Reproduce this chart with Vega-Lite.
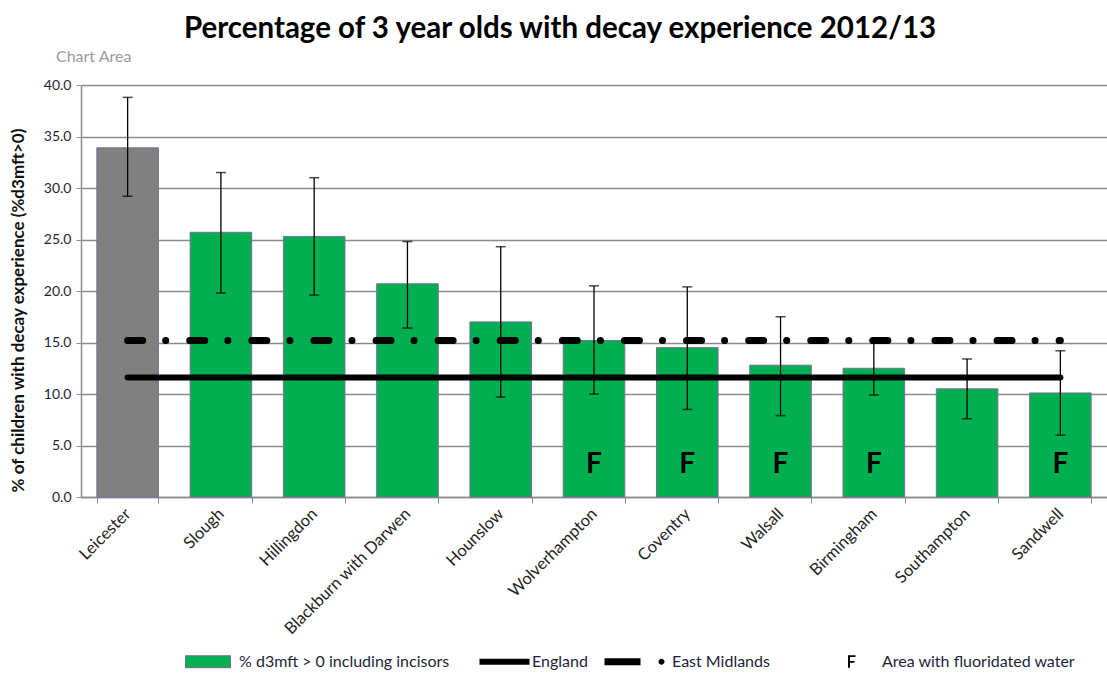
{
  "$schema": "https://vega.github.io/schema/vega-lite/v6.json",
  "autosize": {"type": "none"},
  "padding": {"left": 81, "top": 85, "right": 0, "bottom": 176},
  "width": 1026,
  "height": 412,
  "background": "white",
  "title": {
    "text": "Percentage of 3 year olds with decay experience 2012/13",
    "font": "Lato", "fontSize": 29.5, "fontWeight": "bold", "color": "black",
    "anchor": "middle", "dx": -34, "baseline": "alphabetic", "offset": -18
  },
  "config": {
    "view": {"fill": "#D9D9D9", "stroke": null},
    "font": "Lato"
  },
  "datasets": {
    "areas": [
      {"area": "Leicester", "value": 33.9, "low": 29.2, "high": 38.8, "fl": "", "england": 11.6, "em": 15.2},
      {"area": "Slough", "value": 25.7, "low": 19.8, "high": 31.5, "fl": "", "england": 11.6, "em": 15.2},
      {"area": "Hillingdon", "value": 25.3, "low": 19.6, "high": 31.0, "fl": "", "england": 11.6, "em": 15.2},
      {"area": "Blackburn with Darwen", "value": 20.7, "low": 16.4, "high": 24.8, "fl": "", "england": 11.6, "em": 15.2},
      {"area": "Hounslow", "value": 17.0, "low": 9.7, "high": 24.3, "fl": "", "england": 11.6, "em": 15.2},
      {"area": "Wolverhampton", "value": 15.2, "low": 10.0, "high": 20.5, "fl": "F", "england": 11.6, "em": 15.2},
      {"area": "Coventry", "value": 14.5, "low": 8.5, "high": 20.4, "fl": "F", "england": 11.6, "em": 15.2},
      {"area": "Walsall", "value": 12.8, "low": 7.9, "high": 17.5, "fl": "F", "england": 11.6, "em": 15.2},
      {"area": "Birmingham", "value": 12.5, "low": 9.9, "high": 15.2, "fl": "F", "england": 11.6, "em": 15.2},
      {"area": "Southampton", "value": 10.5, "low": 7.6, "high": 13.4, "fl": "", "england": 11.6, "em": 15.2},
      {"area": "Sandwell", "value": 10.1, "low": 6.0, "high": 14.2, "fl": "F", "england": 11.6, "em": 15.2}
    ],
    "legendKeys": [
      {"key": "% d3mft > 0 including incisors"},
      {"key": "England"},
      {"key": "East Midlands"},
      {"key": "Area with fluoridated water"}
    ]
  },
  "data": {"name": "areas"},
  "encoding": {
    "x": {
      "field": "area", "type": "nominal", "sort": null,
      "scale": {"paddingInner": 0.34, "paddingOuter": 0.17},
      "axis": {
        "title": null, "labelAngle": -45, "labelAlign": "right", "labelBaseline": "middle",
        "labelFont": "Lato", "labelFontSize": 16.5, "labelColor": "#222222", "labelPadding": 8,
        "tickBand": "extent", "tickColor": "#8C8C8C", "tickSize": 6, "tickWidth": 1,
        "domainColor": "#8C8C8C", "domainWidth": 1.5, "grid": false
      }
    }
  },
  "layer": [
    {
      "mark": {"type": "bar", "stroke": "#7A6C9C", "strokeWidth": 1},
      "encoding": {
        "y": {
          "field": "value", "type": "quantitative",
          "scale": {"domain": [0, 40], "nice": false},
          "axis": {
            "title": "% of children with decay experience (%d3mft>0)",
            "titleFont": "Lato", "titleFontSize": 17, "titleFontWeight": "bold", "titleColor": "#111111",
            "titlePadding": 16, "titleY": 225,
            "values": [0, 5, 10, 15, 20, 25, 30, 35, 40], "format": ".1f",
            "labelFont": "Lato", "labelFontSize": 14, "labelColor": "#1F1F3A", "labelPadding": 5,
            "tickColor": "#8C8C8C", "tickSize": 5, "domainColor": "#8C8C8C", "domainWidth": 1.5,
            "gridColor": "#8C8C8C", "gridWidth": 1.5
          }
        },
        "fill": {
          "condition": {"test": "datum.area === 'Leicester'", "value": "#808080"},
          "value": "#00B050"
        }
      }
    },
    {
      "mark": {"type": "line", "color": "black", "strokeWidth": 6, "strokeCap": "round"},
      "encoding": {"y": {"field": "england", "type": "quantitative"}}
    },
    {
      "mark": {"type": "line", "color": "black", "strokeWidth": 7, "strokeCap": "round", "strokeDash": [15, 23, 0.1, 24]},
      "encoding": {"y": {"field": "em", "type": "quantitative"}}
    },
    {
      "mark": {"type": "rule", "color": "black", "strokeWidth": 1.3},
      "encoding": {
        "y": {"field": "low", "type": "quantitative"},
        "y2": {"field": "high"}
      }
    },
    {
      "mark": {"type": "tick", "color": "black", "size": 10, "thickness": 1.5},
      "encoding": {"y": {"field": "low", "type": "quantitative"}}
    },
    {
      "mark": {"type": "tick", "color": "black", "size": 10, "thickness": 1.5},
      "encoding": {"y": {"field": "high", "type": "quantitative"}}
    },
    {
      "transform": [{"filter": "datum.fl === 'F'"}],
      "mark": {"type": "text", "font": "Lato", "fontSize": 28, "fontWeight": "bold", "color": "black", "baseline": "middle"},
      "encoding": {
        "y": {"datum": 3.1, "type": "quantitative"},
        "text": {"field": "fl"}
      }
    },
    {
      "data": {"values": [{"t": "Chart Area"}]},
      "mark": {"type": "text", "font": "Lato", "fontSize": 16, "color": "#9A9A9A", "dx": -34, "baseline": "middle"},
      "encoding": {
        "x": {"datum": "Leicester"},
        "y": {"datum": 42.7, "type": "quantitative"},
        "text": {"field": "t"}
      }
    },
    {
      "data": {"name": "legendKeys"},
      "transform": [{"filter": "false"}],
      "mark": {"type": "point", "filled": true, "opacity": 1},
      "encoding": {
        "x": null,
        "fill": {
          "field": "key", "type": "nominal", "title": null,
          "scale": {"domain": ["% d3mft > 0 including incisors", "England", "East Midlands", "Area with fluoridated water"],
                    "range": ["#00B050", "black", "black", "black"]},
          "legend": {
            "orient": "none", "legendX": 102, "legendY": 551, "direction": "horizontal", "columns": 4,
            "columnPadding": 14, "labelOffset": 5, "symbolSize": 2500, "symbolStrokeWidth": 1,
            "labelFont": "Lato", "labelFontSize": 16, "labelColor": "#1F1F3A", "labelLimit": 400
          }
        },
        "stroke": {
          "field": "key", "type": "nominal", "title": null,
          "scale": {"domain": ["% d3mft > 0 including incisors", "England", "East Midlands", "Area with fluoridated water"],
                    "range": ["#7A6C9C", "transparent", "transparent", "transparent"]},
          "legend": {
            "orient": "none", "legendX": 102, "legendY": 551, "direction": "horizontal", "columns": 4,
            "columnPadding": 14, "labelOffset": 5, "symbolSize": 2500, "symbolStrokeWidth": 1,
            "labelFont": "Lato", "labelFontSize": 16, "labelColor": "#1F1F3A", "labelLimit": 400
          }
        },
        "shape": {
          "field": "key", "type": "nominal", "title": null,
          "scale": {"domain": ["% d3mft > 0 including incisors", "England", "East Midlands", "Area with fluoridated water"],
                    "range": ["M-0.92,-0.24H0.88V0.24H-0.92Z",
                              "M-1.4,0L-1.4,0.01L-1.39,0Z M-0.88,-0.12H1.12V0.12H-0.88Z",
                              "M-1.48,-0.14H-0.04V0.14H-1.48Z M0.68,0 A0.12,0.12 0 1,0 0.92,0 A0.12,0.12 0 1,0 0.68,0 Z",
                              "M-2.6,0L-2.6,0.01L-2.59,0Z M-0.14,-0.26H0.16V-0.19H-0.06V-0.03H0.12V0.04H-0.06V0.24H-0.14Z"]},
          "legend": {
            "orient": "none", "legendX": 102, "legendY": 551, "direction": "horizontal", "columns": 4,
            "columnPadding": 14, "labelOffset": 5, "symbolSize": 2500, "symbolStrokeWidth": 1,
            "labelFont": "Lato", "labelFontSize": 16, "labelColor": "#1F1F3A", "labelLimit": 400
          }
        }
      }
    }
  ]
}
